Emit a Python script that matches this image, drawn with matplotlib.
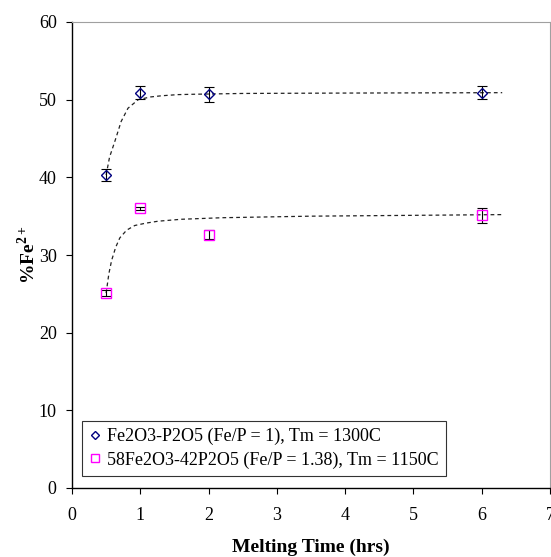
import numpy as np
import matplotlib.pyplot as plt

plt.rcParams['font.family'] = ['Liberation Serif', 'DejaVu Serif']
plt.rcParams['mathtext.fontset'] = 'custom'
plt.rcParams['mathtext.rm'] = 'Liberation Serif'
plt.rcParams['mathtext.bf'] = 'Liberation Serif:bold'

# measured points
time_hrs = [0.5, 1, 2, 6]
fe_a = [40.3, 50.9, 50.7, 50.9]
err_a = [0.75, 0.85, 0.95, 0.8]
fe_b = [25.1, 36.0, 32.6, 35.1]
err_b = [0.4, 0.2, 0.6, 1.0]

# dashed fit curves
fit_x_a = [0.5, 0.55, 0.63, 0.72, 0.82, 0.97, 1.15, 1.31, 1.55, 1.8, 2.5, 4.0, 6.3]
fit_y_a = [40.3, 42.6, 44.7, 47.2, 48.9, 50.0, 50.35, 50.5, 50.65, 50.7, 50.8, 50.85, 50.9]
fit_x_b = [0.5, 0.54, 0.58, 0.64, 0.70, 0.80, 0.92, 1.08, 1.26, 1.6, 2.2, 3.5, 6.3]
fit_y_b = [25.1, 27.6, 29.3, 31.0, 32.2, 33.2, 33.8, 34.1, 34.35, 34.6, 34.8, 35.0, 35.2]

label_a = 'Fe2O3-P2O5 (Fe/P = 1), Tm = 1300C'
label_b = '58Fe2O3-42P2O5 (Fe/P = 1.38), Tm = 1150C'

fig = plt.figure(figsize=(5.51, 5.57), dpi=100)
ax = fig.add_axes([72/551, 69/557, 478/551, 466/557])

ax.plot(fit_x_a, fit_y_a, ls=(0, (3, 2.5)), color='#222222', lw=0.9)
ax.plot(fit_x_b, fit_y_b, ls=(0, (3, 2.5)), color='#222222', lw=0.9)

ax.errorbar(time_hrs, fe_a, yerr=err_a, fmt='none', ecolor='black', elinewidth=0.8, capsize=3.5, capthick=0.8)
ax.errorbar(time_hrs, fe_b, yerr=err_b, fmt='none', ecolor='black', elinewidth=0.8, capsize=3.5, capthick=0.8)
ax.plot(time_hrs, fe_a, ls='none', marker='D', ms=5.5, mfc='none', mec='#000080', mew=1.0, label=label_a)
ax.plot(time_hrs, fe_b, ls='none', marker='s', ms=7, mfc='none', mec='#ff00ff', mew=1.0, label=label_b)

ax.set_xlim(0, 7)
ax.set_ylim(0, 60)
ax.set_xticks(range(0, 8))
ax.set_yticks(range(0, 61, 10))
ax.tick_params(direction='out', length=4, width=0.8, labelsize=13, colors='black')
ax.tick_params(axis='x', pad=10)
ax.tick_params(axis='y', pad=7)
for s in ['top', 'right']:
    ax.spines[s].set_color('#a0a0a0')
    ax.spines[s].set_linewidth(0.8)
for s in ['left', 'bottom']:
    ax.spines[s].set_color('black')
    ax.spines[s].set_linewidth(1.0)

ax.set_xlabel('Melting Time (hrs)', fontsize=14, fontweight='bold', labelpad=10)
ax.set_ylabel('%Fe$^{\\mathbf{2+}}$', fontsize=14, fontweight='bold', labelpad=0)

leg = ax.legend(loc='lower left', bbox_to_anchor=(10/478, 12/466), fontsize=13, frameon=True,
                fancybox=False, edgecolor='black', handlelength=0.6, handletextpad=0.4,
                borderpad=0.4, labelspacing=0.35, borderaxespad=0, markerscale=0.8)
leg.get_frame().set_linewidth(0.8)

fig.savefig('out.png', dpi=100)
